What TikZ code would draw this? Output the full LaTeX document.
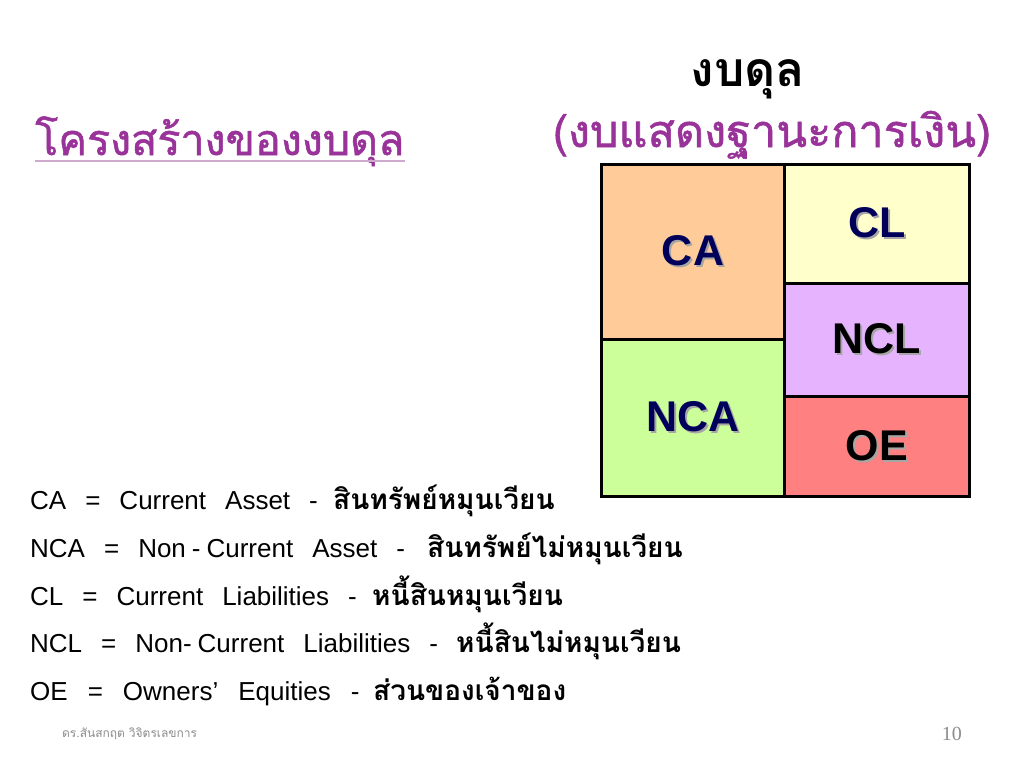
\documentclass[tikz,border=0pt]{standalone}
\usepackage{fontspec}
\setmainfont{Liberation Sans}
\newfontfamily\thai[Script=Thai]{Loma}
\newfontfamily\thaifb[Script=Thai,FakeBold=1.2]{Loma}
\newfontfamily\serif{Liberation Serif}
\definecolor{titlepurple}{RGB}{153,51,153}
\definecolor{underl}{RGB}{205,170,205}
\definecolor{cafill}{RGB}{255,204,153}
\definecolor{clfill}{RGB}{255,255,204}
\definecolor{nclfill}{RGB}{230,180,255}
\definecolor{ncafill}{RGB}{204,255,153}
\definecolor{oefill}{RGB}{255,128,128}
\definecolor{navy}{RGB}{0,0,90}
\definecolor{footgray}{RGB}{140,140,140}
\newcommand\shtext[2]{\leavevmode\rlap{\kern2pt\raisebox{-2pt}{\color{black!35}#2}}{\color{#1}#2}}
\tikzset{
  cell/.style={draw=black,line width=3pt,anchor=north west,inner sep=0pt,
    font=\fontsize{43}{46}\selectfont\bfseries},
  engline/.style={anchor=base west,inner sep=0pt,font=\fontsize{26}{28}\selectfont},
  thline/.style={anchor=base west,inner sep=0pt,font=\fontsize{28}{30}\selectfont\thai\bfseries},
}
\begin{document}
\begin{tikzpicture}[x=1pt,y=-1pt]
\useasboundingbox[fill=white] (0,0) rectangle (1024,768);
% titles
\node[anchor=base west,inner sep=0pt,text=titlepurple,font=\fontsize{43}{46}\selectfont\thaifb] (ttl) at (35,155) {โครงสร้างของงบดุล};
\draw[underl,line width=2pt] (ttl.base west) ++(0,6) coordinate (u1) -- (ttl.base east |- u1);
\node[anchor=base,inner sep=0pt,font=\fontsize{48}{52}\selectfont\thai\bfseries] (bs) at (748,86) {งบดุล};
\node[anchor=base,inner sep=0pt,text=titlepurple,font=\fontsize{45}{48}\selectfont\thaifb] (bs2) at (772,147) {(งบแสดงฐานะการเงิน)};
% boxes
\node[cell,fill=cafill,minimum width=183,minimum height=175] (ca) at (600,163) {\shtext{navy}{CA}};
\node[cell,fill=ncafill,minimum width=183,minimum height=157] (nca) at (600,338) {\shtext{navy}{NCA}};
\node[cell,fill=clfill,minimum width=185,minimum height=119] (cl) at (783,163) {\shtext{navy}{CL}};
\node[cell,fill=nclfill,minimum width=185,minimum height=113] (ncl) at (783,282) {\shtext{black}{NCL}};
\node[cell,fill=oefill,minimum width=185,minimum height=100] (oe) at (783,395) {\shtext{black}{OE}};
% definitions
\node[engline] (e1) at (30,509) {\spaceskip=19pt CA = Current Asset -};
\node[thline] (t1) at (333,509) {สินทรัพย์หมุนเวียน};
\node[engline] (e2) at (30,557) {\spaceskip=19pt NCA = Non\hspace{6pt}-\hspace{6pt}Current Asset -};
\node[thline] (t2) at (427,557) {สินทรัพย์ไม่หมุนเวียน};
\node[engline] (e3) at (30,605) {\spaceskip=19pt CL = Current Liabilities -};
\node[thline] (t3) at (372,605) {หนี้สินหมุนเวียน};
\node[engline] (e4) at (30,652) {\spaceskip=19pt NCL = Non-\hspace{6pt}Current Liabilities -};
\node[thline] (t4) at (456,652) {หนี้สินไม่หมุนเวียน};
\node[engline] (e5) at (30,700) {\spaceskip=20pt OE = Owners’ Equities -};
\node[thline] (t5) at (373,700) {ส่วนของเจ้าของ};
% footer
\node[anchor=base west,inner sep=0pt,text=footgray,font=\fontsize{12}{14}\selectfont\thai] (ft) at (62,737) {ดร.สันสกฤต วิจิตรเลขการ};
\node[anchor=base east,inner sep=0pt,text=footgray,font=\fontsize{20}{22}\selectfont\serif] (pg) at (962,740) {10};
\end{tikzpicture}
\end{document}
